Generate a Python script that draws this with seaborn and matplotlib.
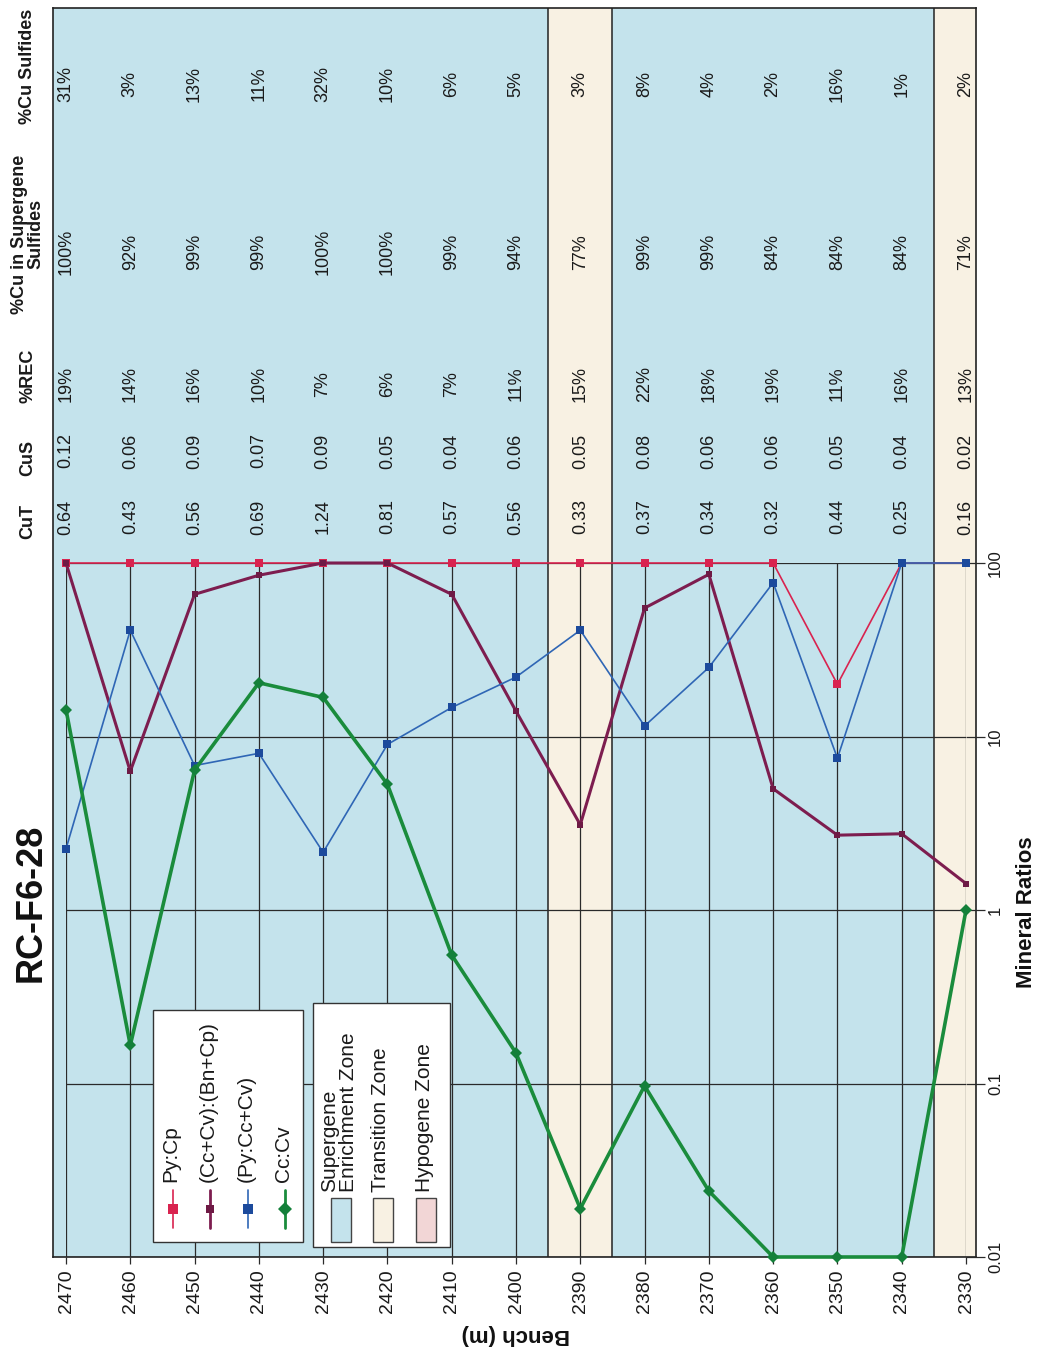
import matplotlib
matplotlib.use("Agg")
import matplotlib.pyplot as plt
import matplotlib.transforms as mtransforms
from matplotlib.lines import Line2D
from matplotlib.patches import Rectangle
from matplotlib.ticker import NullLocator, FixedLocator, FixedFormatter
import seaborn as sns

bench = [2470, 2460, 2450, 2440, 2430, 2420, 2410, 2400, 2390, 2380, 2370, 2360, 2350, 2340, 2330]
py_cp = [100, 100, 100, 100, 100, 100, 100, 100, 100, 100, 100, 100, 20, 100, 100]
cc_bn = [100, 6.3, 66, 85, 100, 100, 66, 14, 3.1, 55, 86, 5.0, 2.7, 2.75, 1.42]
py_cc = [2.25, 41, 6.8, 8.0, 2.15, 9.0, 14.7, 22, 41, 11.5, 25, 77, 7.5, 100, 100]
cc_cv = [14.3, 0.166, 6.4, 20.4, 16.8, 5.3, 0.55, 0.15, 0.019, 0.097, 0.024, 0.01, 0.01, 0.01, 1.0]

cut = ['0.64', '0.43', '0.56', '0.69', '1.24', '0.81', '0.57', '0.56', '0.33', '0.37', '0.34', '0.32', '0.44', '0.25', '0.16']
cus = ['0.12', '0.06', '0.09', '0.07', '0.09', '0.05', '0.04', '0.06', '0.05', '0.08', '0.06', '0.06', '0.05', '0.04', '0.02']
rec = [19, 14, 16, 10, 7, 6, 7, 11, 15, 22, 18, 19, 11, 16, 13]
cu_supergene = [100, 92, 99, 99, 100, 100, 99, 94, 77, 99, 99, 84, 84, 84, 71]
cu_sulfides = [31, 3, 13, 11, 32, 10, 6, 5, 3, 8, 4, 2, 16, 1, 2]

zone = ['S', 'S', 'S', 'S', 'S', 'S', 'S', 'S', 'T', 'S', 'S', 'S', 'S', 'S', 'T']
zone_labels = ['Supergene\nEnrichment Zone', 'Transition Zone', 'Hypogene Zone']
zone_colors = {'S': '#c4e3ec', 'T': '#f8f1e3', 'H': '#f2d6d6'}

series_labels = ['Py:Cp', '(Cc+Cv):(Bn+Cp)', '(Py:Cc+Cv)', 'Cc:Cv']
ratio_ticks = [0.01, 0.1, 1, 10, 100]
ratio_labels = ['0.01', '0.1', '1', '10', '100']

sns.set_theme(style="white")
plt.rcParams['font.family'] = ['Liberation Sans', 'DejaVu Sans']

W, H = 1037, 1352
fig = plt.figure(figsize=(W / 100, H / 100), dpi=100)
fig.patch.set_facecolor('white')


def fx(x):
    return x / W


def fy(y):
    return 1 - y / H


# background panel: zones, frame and the data table
bg = fig.add_axes([fx(53), fy(1257), fx(923), (1257 - 8) / H])
bg.set_xlim(2472.02, 2328.44)
bg.set_ylim(0, 1)
bg.set_facecolor(zone_colors['S'])
bg.set_xticks([])
bg.set_yticks([])
for s in bg.spines.values():
    s.set_color('#222222')
    s.set_linewidth(1.2)
for i, b in enumerate(bench):
    if zone[i] != 'S':
        bg.axvspan(b + 5, b - 5, color=zone_colors[zone[i]], lw=0, zorder=0)
    if i > 0 and zone[i] != zone[i - 1]:
        bg.axvline(b + 5, color='#222222', lw=1.1, zorder=1)

tr = mtransforms.blended_transform_factory(bg.transData, fig.transFigure)
columns = [(cut, 517), (cus, 451), ([f'{v}%' for v in rec], 384),
           ([f'{v}%' for v in cu_supergene], 252), ([f'{v}%' for v in cu_sulfides], 84)]
for vals, yc in columns:
    for b, v in zip(bench, vals):
        fig.text(b, fy(yc), v, transform=tr, rotation=90, ha='center', va='center',
                 fontsize=13, color='#1a1a1a')

headers = [('CuT', 521), ('CuS', 458), ('%REC', 376), ('%Cu in Supergene\nSulfides', 234), ('%Cu Sulfides', 66)]
for txt, yc in headers:
    fig.text(fx(28), fy(yc), txt, rotation=90, ha='center', va='center', fontsize=13,
             fontweight='bold', color='#1a1a1a', multialignment='center', linespacing=0.95)

# main ratio chart
ax = fig.add_axes([fx(66), fy(1257), fx(900), (1257 - 563) / H])
ax.set_facecolor('none')
ax.set_yscale('log')
ax.set_xlim(2470, 2330)
ax.set_ylim(0.01, 100)

styles = [
    (py_cp, '#d9234f', 1.2, 's', 5.5, '#d9234f'),
    (cc_bn, '#7d1d4f', 2.2, 's', 4.5, '#6e1a45'),
    (py_cc, '#2f66b5', 1.2, 's', 5.5, '#1c4a9c'),
    (cc_cv, '#1a8c3c', 2.6, 'D', 6.0, '#14803a'),
]
for vals, col, lw, mk, ms, mc in styles:
    sns.lineplot(x=bench, y=vals, ax=ax, color=col, lw=lw, marker=mk, markersize=ms,
                 markerfacecolor=mc, markeredgecolor=mc, markeredgewidth=0, clip_on=False,
                 zorder=3, sort=False)

ax.set_xlabel('')
ax.set_ylabel('')
ax.xaxis.set_major_locator(FixedLocator(bench))
ax.set_xticklabels([str(b) for b in bench])
ax.yaxis.set_major_locator(FixedLocator(ratio_ticks))
ax.yaxis.set_major_formatter(FixedFormatter(ratio_labels))
ax.yaxis.set_minor_locator(NullLocator())
ax.grid(True, which='major', color='#2a2a2a', lw=0.9)
ax.set_axisbelow(True)
for s in ax.spines.values():
    s.set_visible(False)
ax.yaxis.tick_right()
ax.tick_params(axis='y', which='major', right=True, left=False, length=14, width=0.9,
               color='#2a2a2a', pad=2, labelsize=12, labelrotation=90, labelcolor='#1a1a1a')
ax.tick_params(axis='x', which='major', bottom=True, length=5, width=0.9, color='#2a2a2a',
               pad=4, labelsize=14, labelrotation=90, labelcolor='#1a1a1a')
for lbl in ax.get_yticklabels():
    lbl.set_va('center')

# titles
fig.text(fx(31), fy(903), 'RC-F6-28', rotation=90, ha='center', va='center',
         fontsize=26, fontweight='bold', color='#111111')
fig.text(fx(1026), fy(912), 'Mineral Ratios', rotation=90, ha='center', va='center',
         fontsize=16, fontweight='bold', color='#111111')
fig.text(fx(516), fy(1335), 'Bench (m)', rotation=180, ha='center', va='center',
         fontsize=16, fontweight='bold', color='#111111')

# series legend
fig.add_artist(Rectangle((fx(153), fy(1242)), fx(150), (1242 - 1010) / H, transform=fig.transFigure,
                         facecolor='white', edgecolor='#333333', lw=1, zorder=5))
for (vals, col, lw, mk, ms, mc), lab, xc in zip(styles, series_labels, [173, 210, 248, 285]):
    fig.add_artist(Line2D([fx(xc), fx(xc)], [fy(1190), fy(1228)], transform=fig.transFigure,
                          color=col, lw=min(lw, 2.0), zorder=6))
    fig.add_artist(Line2D([fx(xc)], [fy(1209)], transform=fig.transFigure, color=mc,
                          marker=mk, markersize=ms + 1, markeredgewidth=0, zorder=7))
    fig.text(fx(xc - 2), fy(1182), lab, rotation=90, ha='center', va='bottom', fontsize=15,
             color='#1a1a1a', zorder=7)

# zone legend
fig.add_artist(Rectangle((fx(313), fy(1247)), fx(137), (1247 - 1003) / H, transform=fig.transFigure,
                         facecolor='white', edgecolor='#333333', lw=1, zorder=5))
for lab, key, xc in zip(zone_labels, ['S', 'T', 'H'], [341, 383, 426]):
    fig.add_artist(Rectangle((fx(xc - 10), fy(1242)), fx(20), 44 / H, transform=fig.transFigure,
                             facecolor=zone_colors[key], edgecolor='#444444', lw=1, zorder=6))
    fig.text(fx(xc - 2), fy(1192), lab, rotation=90, ha='center', va='bottom', fontsize=15,
             color='#1a1a1a', multialignment='left', linespacing=0.95, zorder=7)

fig.savefig('out.png', dpi=100)
